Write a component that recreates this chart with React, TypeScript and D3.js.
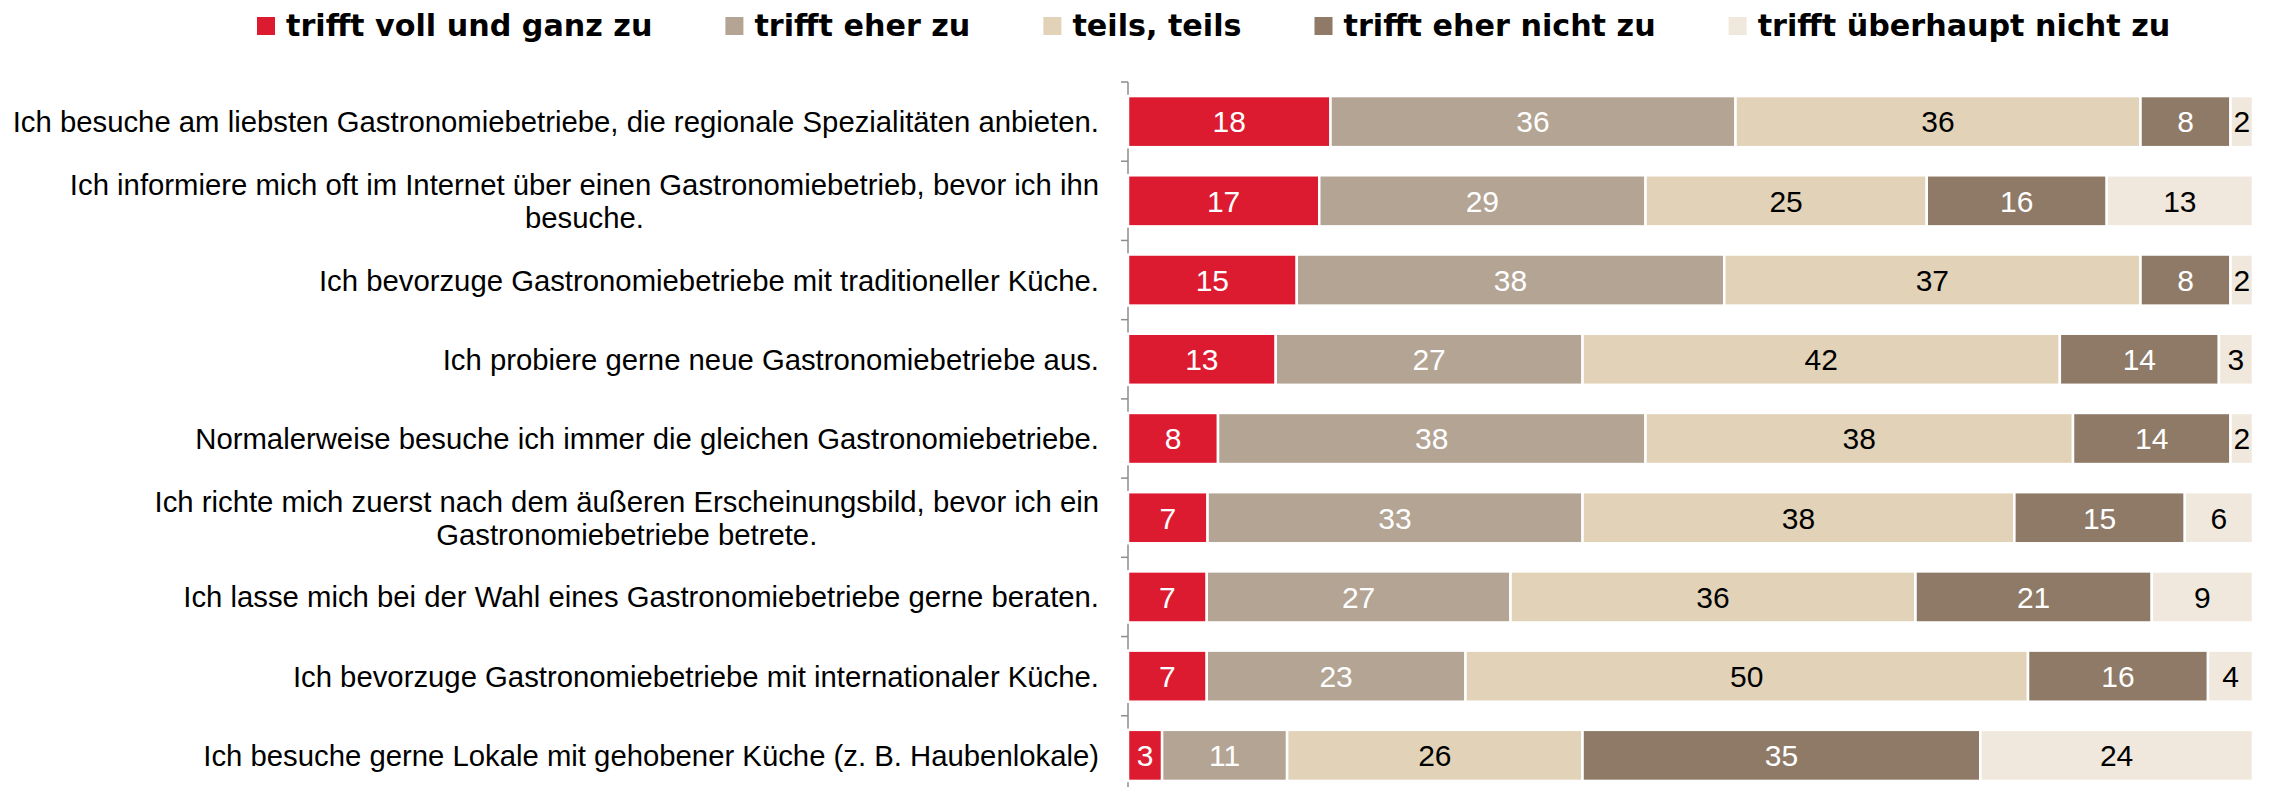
import { useEffect, useRef } from "react";
import * as d3 from "d3";

const width = 2270;
const height = 787;

const categories = [
  "Ich besuche am liebsten Gastronomiebetriebe, die regionale Spezialitäten anbieten.",
  "Ich informiere mich oft im Internet über einen Gastronomiebetrieb, bevor ich ihn|besuche.",
  "Ich bevorzuge Gastronomiebetriebe mit traditioneller Küche.",
  "Ich probiere gerne neue Gastronomiebetriebe aus.",
  "Normalerweise besuche ich immer die gleichen Gastronomiebetriebe.",
  "Ich richte mich zuerst nach dem äußeren Erscheinungsbild, bevor ich ein|Gastronomiebetriebe betrete.",
  "Ich lasse mich bei der Wahl eines Gastronomiebetriebe gerne beraten.",
  "Ich bevorzuge Gastronomiebetriebe mit internationaler Küche.",
  "Ich besuche gerne Lokale mit gehobener Küche (z. B. Haubenlokale)",
];

const seriesNames = [
  "trifft voll und ganz zu",
  "trifft eher zu",
  "teils, teils",
  "trifft eher nicht zu",
  "trifft überhaupt nicht zu",
];

const vollUndGanz = [18, 17, 15, 13, 8, 7, 7, 7, 3];
const eherZu = [36, 29, 38, 27, 38, 33, 27, 23, 11];
const teilsTeils = [36, 25, 37, 42, 38, 38, 36, 50, 26];
const eherNicht = [8, 16, 8, 14, 14, 15, 21, 16, 35];
const ueberhauptNicht = [2, 13, 2, 3, 2, 6, 9, 4, 24];

const colors = ["#dc1b31", "#b3a494", "#e2d3b8", "#8e7a67", "#f0e8dc"];
const textColors = ["#fff", "#fff", "#000", "#fff", "#000"];

const font = "'Liberation Sans', Arial, sans-serif";
const legendFont = "'DejaVu Sans', sans-serif";

const App = () => {
  const ref = useRef(null);

  useEffect(() => {
    const svg = d3.select(ref.current);
    svg.selectAll("*").remove();

    const seriesValues = [vollUndGanz, eherZu, teilsTeils, eherNicht, ueberhauptNicht];
    const rows = categories.map((c, i) => {
      const r = { cat: c };
      seriesNames.forEach((s, j) => (r[s] = seriesValues[j][i]));
      return r;
    });

    // 100% stacked
    const stacked = d3.stack().keys(seriesNames).offset(d3.stackOffsetExpand)(rows);

    const x = d3.scaleLinear().domain([0, 1]).range([1128, 2253]);
    const y = d3.scaleBand().domain(categories).range([82, 795]).paddingInner(0.355).paddingOuter(0.1775);
    const yStep = d3.scaleBand().domain(categories).range([82, 795]);

    // axis line + ticks
    const ax = svg.append("g").attr("stroke", "#8c8c8c").attr("stroke-width", 1.5);
    ax.append("line").attr("x1", 1128).attr("x2", 1128).attr("y1", 82).attr("y2", height);
    categories.forEach((c) => {
      const yy = yStep(c);
      ax.append("line").attr("x1", 1121).attr("x2", 1128).attr("y1", yy).attr("y2", yy);
    });

    // bars
    const layer = svg.append("g").selectAll("g").data(stacked).enter().append("g");
    layer.each(function (s, si) {
      const g = d3.select(this);
      g.selectAll("rect")
        .data(s)
        .enter()
        .append("rect")
        .attr("x", (d) => x(d[0]))
        .attr("width", (d) => x(d[1]) - x(d[0]))
        .attr("y", (d) => y(d.data.cat))
        .attr("height", y.bandwidth())
        .attr("fill", colors[si])
        .attr("stroke", "#fff")
        .attr("stroke-width", 2.5);
      g.selectAll("text")
        .data(s)
        .enter()
        .append("text")
        .attr("x", (d) => (x(d[0]) + x(d[1])) / 2)
        .attr("y", (d) => y(d.data.cat) + y.bandwidth() / 2)
        .attr("dy", "0.36em")
        .attr("text-anchor", "middle")
        .attr("font-family", font)
        .attr("font-size", 30)
        .attr("fill", textColors[si])
        .text((d) => d.data[s.key]);
    });

    // category labels (multi-line ones centred on each other, block right aligned)
    categories.forEach((c) => {
      const lines = c.split("|");
      const cy = y(c) + y.bandwidth() / 2;
      const t = svg
        .append("text")
        .attr("font-family", font)
        .attr("font-size", 29.3)
        .attr("fill", "#000");
      const lh = 33;
      const tspans = lines.map((l, i) =>
        t.append("tspan").attr("y", cy + (i - (lines.length - 1) / 2) * lh).attr("dy", "0.36em").text(l)
      );
      const widths = tspans.map((ts) => ts.node().getComputedTextLength());
      const maxW = Math.max(...widths);
      const center = 1099 - maxW / 2;
      tspans.forEach((ts) => ts.attr("x", center).attr("text-anchor", "middle"));
    });

    // legend
    const lg = svg.append("g");
    let lx = 257;
    seriesNames.forEach((s, i) => {
      lg.append("rect").attr("x", lx).attr("y", 17).attr("width", 18).attr("height", 18).attr("fill", colors[i]);
      const t = lg
        .append("text")
        .attr("x", lx + 29)
        .attr("y", 25)
        .attr("dy", "0.36em")
        .attr("font-family", legendFont)
        .attr("font-weight", "bold")
        .attr("font-size", 30.2)
        .text(s);
      lx += 29 + t.node().getComputedTextLength() + 73;
    });
  }, []);

  return (
    <svg
      ref={ref}
      width={width}
      height={height}
      style={{ position: "absolute", left: 0, top: 0, background: "#fff" }}
    ></svg>
  );
};

export default App;
